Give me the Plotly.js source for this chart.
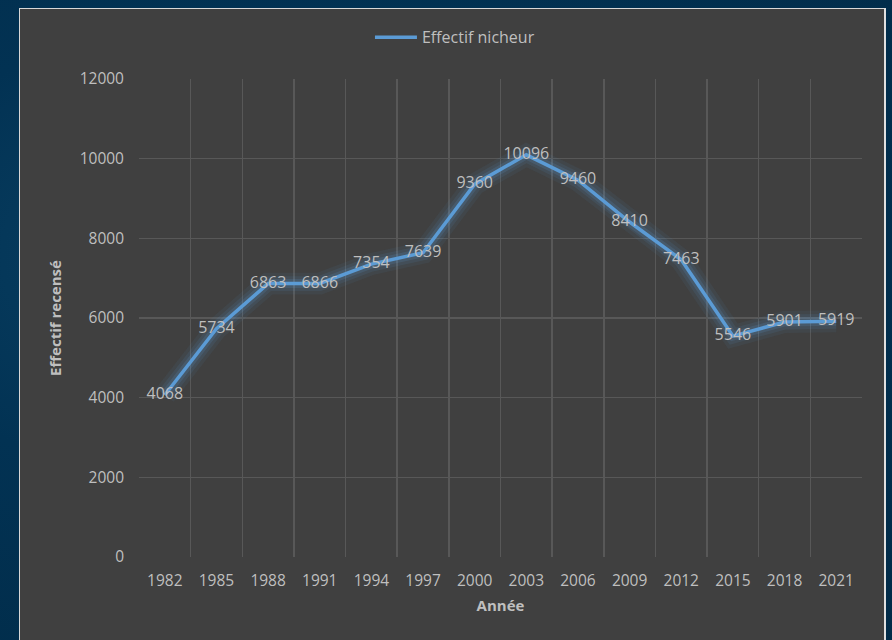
<!DOCTYPE html>
<html>
<head>
<meta charset="utf-8">
<script src="https://cdn.plot.ly/plotly-3.0.1.min.js"></script>
<style>
  html, body { margin: 0; padding: 0; width: 892px; height: 640px; overflow: hidden;
    background: radial-gradient(ellipse at 30% 40%, #0b4468 0%, #023253 45%, #012b48 100%); }
  #frame { position: absolute; left: 19px; top: 8px; width: 864px; height: 640px;
    border-top: 1px solid #d8d8d8; border-left: 1px solid #d8d8d8; border-right: 2px solid #e0e0e0; background: #404040; }
  #chart { width: 864px; height: 632px; }
</style>
</head>
<body>
<div id="frame"><div id="chart"></div></div>
<script>
const years = ["1982","1985","1988","1991","1994","1997","2000","2003","2006","2009","2012","2015","2018","2021"];
const effectif = [4068, 5734, 6863, 6866, 7354, 7639, 9360, 10096, 9460, 8410, 7463, 5546, 5901, 5919];
const yTicks = [0, 2000, 4000, 6000, 8000, 10000, 12000];

const font = "'Open Sans', 'Noto Sans', sans-serif";
function glowTrace(w, a) {
  return {
    x: years, y: effectif, type: 'scatter', mode: 'lines',
    line: {color: 'rgba(91,155,213,' + a + ')', width: w},
    hoverinfo: 'skip', showlegend: false
  };
}
const main = {
  x: years, y: effectif, type: 'scatter', mode: 'lines+text',
  name: 'Effectif nicheur',
  line: {color: '#5b9bd5', width: 3.5},
  text: effectif.map(String), textposition: 'middle center',
  textfont: {family: font, size: 16, color: '#bfbfbf'}
};

const layout = {
  width: 864, height: 632,
  paper_bgcolor: '#404040', plot_bgcolor: '#404040',
  margin: {l: 119, r: 22, t: 69, b: 84},
  font: {family: font, color: '#bfbfbf', size: 15},
  showlegend: true,
  legend: {orientation: 'h', x: 0.437, xanchor: 'center', y: 1.085, yanchor: 'middle',
    itemwidth: 42,
    font: {family: font, size: 16, color: '#bfbfbf'}, bgcolor: 'rgba(0,0,0,0)'},
  xaxis: {
    type: 'category', tickson: 'boundaries', range: [-0.5, 13.5],
    showgrid: true, gridcolor: '#585858', gridwidth: 1.5,
    ticks: '', zeroline: false, showline: false,
    tickfont: {family: font, size: 15.5, color: '#bfbfbf'},
    ticklabelstandoff: 12,
    title: {text: 'Année', font: {family: font, size: 15, color: '#bfbfbf', weight: 'bold'}, standoff: 10}
  },
  yaxis: {
    range: [0, 12000], tickvals: yTicks, ticktext: yTicks.map(String),
    showgrid: true, gridcolor: '#585858', gridwidth: 1.5, zeroline: false, showline: false,
    tickfont: {family: font, size: 15.5, color: '#bfbfbf'},
    ticklabelstandoff: 14,
    title: {text: 'Effectif recensé', font: {family: font, size: 15, color: '#bfbfbf', weight: 'bold'}, standoff: 14}
  }
};
Plotly.newPlot('chart', [glowTrace(22, 0.07), glowTrace(15, 0.1), glowTrace(9, 0.16), main], layout,
  {displayModeBar: false, staticPlot: true});
</script>
</body>
</html>
